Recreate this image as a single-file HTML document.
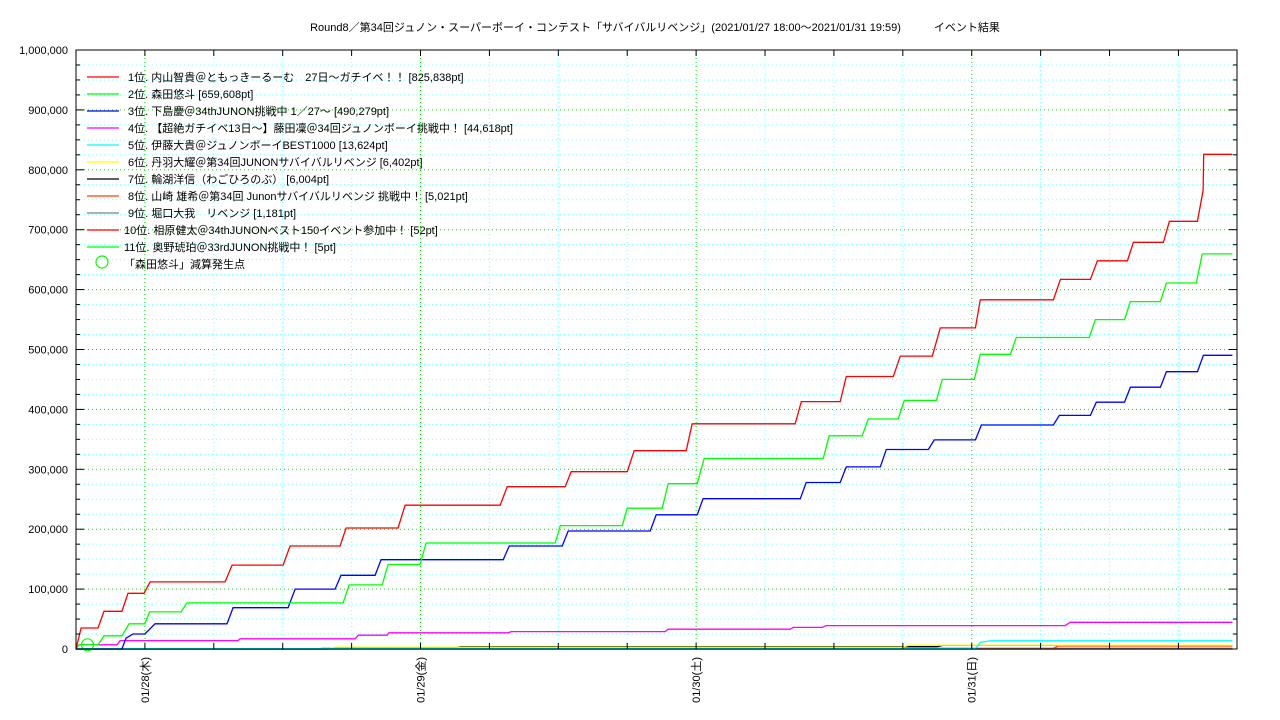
<!DOCTYPE html>
<html><head><meta charset="utf-8"><style>
html,body{margin:0;padding:0;background:#fff;}
svg{display:block;font-family:"Liberation Sans","Noto Sans CJK JP",sans-serif;}
</style></head><body>
<svg id="chart" width="1280" height="720" xmlns="http://www.w3.org/2000/svg">
<text x="655" y="31" font-size="11" text-anchor="middle" fill="#000">Round8／第34回ジュノン・スーパーボーイ・コンテスト「サバイバルリベンジ」(2021/01/27 18:00〜2021/01/31 19:59)　　　イベント結果</text>
<g id="grid"></g><g id="series"></g><g id="axes"></g><g id="legend"></g>
</svg>
<script>
// x in hours from 2021/01/27 18:00
const dayLabels = ["01/28(木)","01/29(金)","01/30(土)","01/31(日)"];
const dayHours = [6,30,54,78];
const yTicks = [0,100000,200000,300000,400000,500000,600000,700000,800000,900000,1000000];
const seriesNames = ["1位. 内山智貴＠ともっきーるーむ　27日〜ガチイベ！！ [825,838pt]","2位. 森田悠斗 [659,608pt]","3位. 下島慶＠34thJUNON挑戦中 1／27〜 [490,279pt]","4位. 【超絶ガチイベ13日〜】藤田凜＠34回ジュノンボーイ挑戦中！ [44,618pt]","5位. 伊藤大貴＠ジュノンボーイBEST1000 [13,624pt]","6位. 丹羽大耀＠第34回JUNONサバイバルリベンジ [6,402pt]","7位. 輪湖洋信（わごひろのぶ） [6,004pt]","8位. 山崎 雄希＠第34回 Junonサバイバルリベンジ 挑戦中！ [5,021pt]","9位. 堀口大我　リベンジ [1,181pt]","10位. 相原健太＠34thJUNONベスト150イベント参加中！ [52pt]","11位. 奥野琥珀＠33rdJUNON挑戦中！ [5pt]"];
const seriesColors = ["#ff0000","#00ff00","#0000ff","#ff00ff","#00ffff","#ffff00","#000000","#ff4500","#808080","#ff0000","#00ff00"];
const h1 = [0,0.44,1.92,2.44,4.0,4.53,5.92,6.45,12.98,13.59,18.03,18.64,23.0,23.52,28.05,28.66,36.94,37.55,42.6,43.12,48.0,48.61,53.14,53.66,62.63,63.16,66.55,67.08,71.17,71.78,74.57,75.26,78.32,78.75,85.11,85.72,88.33,88.94,91.56,92.08,94.69,95.21,97.65,98.15,98.2,100.7];
const v1 = [0,35000,35000,63000,63000,93000,93000,112000,112000,140000,140000,172000,172000,202000,202000,240000,240000,271000,271000,296000,296000,331000,331000,376000,376000,413000,413000,455000,455000,489000,489000,536000,536000,583000,583000,617000,617000,648000,648000,679000,679000,714000,714000,765000,825838,825838];
const h2 = [0,0.26,1.92,2.44,4.0,4.62,6.0,6.4,9.15,9.67,23.26,23.78,26.66,27.18,29.96,30.49,41.73,42.17,47.57,48.0,51.05,51.57,54.09,54.7,65.07,65.59,68.46,68.99,71.6,72.13,74.92,75.44,78.23,78.75,81.36,81.88,88.24,88.76,91.3,91.82,94.43,94.95,97.56,98.08,100.7];
const v2 = [0,7000,7000,22000,22000,42000,42000,62000,62000,77000,77000,107000,107000,141000,141000,177000,177000,206000,206000,235000,235000,276000,276000,318000,318000,356000,356000,384000,384000,415000,415000,450000,450000,492000,492000,520000,520000,550000,550000,580000,580000,611000,611000,659608,659608];
const h3 = [0,4.0,4.35,4.96,6.0,6.88,13.15,13.68,18.47,19.08,22.56,23.08,26.05,26.57,37.2,37.72,42.34,42.86,50.0,50.52,54.09,54.61,63.07,63.59,66.55,67.08,70.04,70.56,74.22,74.74,78.32,78.84,85.11,85.63,88.33,88.85,91.3,91.82,94.43,94.95,97.65,98.17,100.7];
const v3 = [0,0,18000,25000,25000,42000,42000,69000,69000,100000,100000,123000,123000,149000,149000,172000,172000,197000,197000,224000,224000,251000,251000,278000,278000,304000,304000,333000,333000,349000,349000,374000,374000,390000,390000,412000,412000,437000,437000,463000,463000,490279,490279];
const h4 = [0,0.26,3.57,3.83,14.11,14.29,24.31,24.57,27.09,27.26,37.64,37.9,51.31,51.57,62.2,62.46,64.99,65.33,86.14,86.58,100.7];
const v4 = [0,7000,7000,14000,14000,17000,17000,23000,23000,27000,27000,29000,29000,33000,33000,36000,36000,39000,39000,44618,44618];
const h5 = [0,78.32,78.75,79.6,100.7];
const v5 = [500,500,11000,13624,13624];
const h6 = [0,22.0,22.5,72.0,72.5,100.7];
const v6 = [0,0,3000,3000,6402,6402];
const h7 = [0,22.0,22.5,33.0,33.5,75.0,75.5,100.7];
const v7 = [0,0,2500,2500,4000,4000,6004,6004];
const h8 = [0,85.0,85.5,100.7];
const v8 = [0,0,5021,5021];
const h9 = [0,21.0,21.5,100.7];
const v9 = [0,0,1181,1181];
const h10 = [0,100.7];
const v10 = [52,52];
const h11 = [0,100.7];
const v11 = [5,5];
const allH = [h1,h2,h3,h4,h5,h6,h7,h8,h9,h10,h11];
const allV = [v1,v2,v3,v4,v5,v6,v7,v8,v9,v10,v11];
const markerH = [1.0];
const markerV = [7000];

const NS="http://www.w3.org/2000/svg";
const L=76,R=1237,T=50,B=649;
const HMAX=101.1;
function xs(h){return L+h*(R-L)/HMAX;}
function ys(v){return B-v*(B-T)/1000000;}
function mk(tag,attrs,parent){const e=document.createElementNS(NS,tag);for(const k in attrs)e.setAttribute(k,attrs[k]);parent.appendChild(e);return e;}
const grid=document.getElementById('grid'),axes=document.getElementById('axes'),ser=document.getElementById('series'),leg=document.getElementById('legend');
// horizontal grid: minor every 25k
for(let v=25000;v<1000000;v+=25000){
  const major=v%100000===0;
  const ln=mk('line',{x1:L,x2:R,y1:ys(v),y2:ys(v),stroke:major?'#00e000':'#80ffff','stroke-width':1,'stroke-dasharray':'1,3'},grid);
  
  
}
// vertical grid every 6h
for(let h=6;h<HMAX;h+=6){
  const major=dayHours.includes(h);
  const ln=mk('line',{x1:xs(h),x2:xs(h),y1:T,y2:B,stroke:major?'#00e000':'#80ffff','stroke-width':1,'stroke-dasharray':'1,3'},grid);
  
  
  const t1=mk('line',{x1:xs(h),x2:xs(h),y1:B,y2:B-6,stroke:'#000'},axes);
  
  
  const t2=mk('line',{x1:xs(h),x2:xs(h),y1:T,y2:T+6,stroke:'#000'},axes);
  
  
}
// series
for(let i=allH.length-1;i>=0;i--){
  const pts=allH[i].map((h,j)=>xs(h).toFixed(1)+','+ys(allV[i][j]).toFixed(1)).join(' ');
  const pl=mk('polyline',{points:pts,fill:'none',stroke:seriesColors[i],'stroke-width':1.3},ser);
  
  
}
for(let k=0;k<markerH.length;k++){
  const c=mk('circle',{cx:xs(markerH[k]),cy:ys(markerV[k]),r:6,fill:'none',stroke:'#00ff00','stroke-width':1.2},ser);
  
  
}
// frame
const fr=mk('rect',{x:L,y:T,width:R-L,height:B-T,fill:'none',stroke:'#000','stroke-width':1},axes);


// y ticks and labels
for(let v=0;v<=1000000;v+=25000){
  const major=v%100000===0,len=major?8:4;
  const a=mk('line',{x1:L,x2:L+len,y1:ys(v),y2:ys(v),stroke:'#000'},axes);
  
  
  const b=mk('line',{x1:R,x2:R-len,y1:ys(v),y2:ys(v),stroke:'#000'},axes);
  
  
}
yTicks.forEach(v=>{
  const t=mk('text',{x:68,y:ys(v)+4,'font-size':11,'text-anchor':'end',fill:'#000'},axes);
  t.textContent=v.toLocaleString('en-US');
  
  
});
dayLabels.forEach((lab,i)=>{
  const x=xs(dayHours[i])+4;
  const t=mk('text',{x:x,y:657,'font-size':11,'text-anchor':'end',fill:'#000',transform:'rotate(-90 '+x+' 657)'},axes);
  t.textContent=lab;
  
  
});
// legend
seriesNames.forEach((n,i)=>{
  const y=77+i*17;
  const ln=mk('line',{x1:87,x2:119,y1:y,y2:y,stroke:seriesColors[i],'stroke-width':1.3},leg);
  
  
  const t=mk('text',{x:i>=9?124:128,y:y+4,'font-size':11,fill:'#000'},leg);
  t.textContent=n;
  
  
});
const lc=mk('circle',{cx:102,cy:262,r:6,fill:'none',stroke:'#00ff00','stroke-width':1.2},leg);


const lt=mk('text',{x:124,y:268,'font-size':11,fill:'#000'},leg);
lt.textContent='「森田悠斗」減算発生点';


</script>
</body></html>
